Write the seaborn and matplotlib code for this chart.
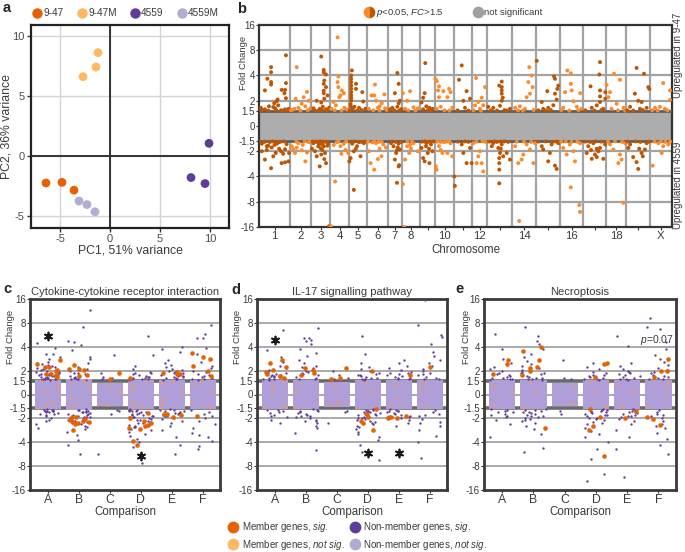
import numpy as np
import pandas as pd
import matplotlib.pyplot as plt
from matplotlib.lines import Line2D
import seaborn as sns

# ---------------- a: PCA ----------------
pca_sample = ['9-47'] * 3 + ['9-47M'] * 3 + ['4559'] * 3 + ['4559M'] * 3
pca_pc1 = [-6.4, -4.8, -3.6, -2.7, -1.4, -1.2, 9.9, 8.1, 9.5, -3.1, -2.3, -1.5]
pca_pc2 = [-2.25, -2.2, -2.85, 6.6, 7.4, 8.6, 1.05, -1.8, -2.3, -3.75, -4.05, -4.65]

# ---------------- b: genome-wide fold changes ----------------
chrom_names = ['1', '2', '3', '4', '5', '6', '7', '8', '9', '10',
               '11', '12', '13', '14', '15', '16', '17', '18', '19', 'X']
chrom_shown = ['1', '2', '3', '4', '5', '6', '7', '8', '10', '12', '14', '16', '18', 'X']
chrom_width = [31, 21, 19, 19, 18, 21, 14, 18, 15, 19, 18, 15, 25, 24, 24, 23, 23, 20, 24, 22]
fc_cut = 1.5

# significant genes per chromosome: (relative position, log2 fold change)
chr1 = [(0.87, 2.8), (0.39, 2.33), (0.39, 2.13), (0.27, 1.87), (0.39, 1.74), (0.39, 1.64), (0.87, 1.7),
        (0.19, 1.41), (0.73, 1.43), (0.84, 1.43), (0.82, 1.3), (0.87, 1.1), (0.6, 1.05), (0.57, 0.98),
        (0.49, 0.9), (0.32, 0.78), (0.46, 0.75), (0.06, 0.72), (0.71, 0.62), (0.84, 0.66), (0.19, 0.66),
        (0.62, 0.82), (0.52, 0.7), (0.95, 0.68), (0.1, 0.63), (0.3, 0.61), (0.55, 0.64), (0.78, 0.61),
        (0.92, 0.63),
        (0.19, -1.33), (0.39, -1.67), (0.84, -1.44), (0.73, -1.47), (0.95, -1.4), (0.54, -1.07), (0.46, -1.2),
        (0.65, -0.9), (0.78, -1.1), (0.3, -0.78), (0.19, -0.62), (0.09, -0.7), (0.89, -0.72), (0.57, -0.7),
        (0.41, -0.85), (0.71, -1.0), (0.97, -1.07), (0.84, -0.92), (0.09, -1.0), (0.25, -0.95), (0.62, -0.66),
        (0.35, -0.64), (0.15, -0.63), (0.45, -0.61), (0.68, -0.63), (0.8, -0.61), (0.5, -0.75), (0.25, -0.8)]
chr2 = [(0.32, 2.33), (0.27, 1.08), (0.81, 1.35), (0.65, 1.14), (0.89, 1.0), (0.56, 0.88), (0.73, 0.78),
        (0.21, 0.68), (0.4, 0.72), (0.97, 0.7), (0.1, 0.64), (0.05, 0.62), (0.5, 0.61), (0.85, 0.63),
        (0.73, -1.4), (0.24, -1.07), (0.56, -0.96), (0.08, -0.8), (0.4, -0.68), (0.89, -0.64), (0.81, -1.05),
        (0.32, -0.86), (0.6, -0.75), (0.15, -0.92), (0.3, -0.62), (0.7, -0.61), (0.95, -0.63)]
chr3 = [(0.54, 2.75), (0.67, 2.22), (0.67, 2.13), (0.79, 2.04), (0.7, 1.8), (0.67, 1.67), (0.79, 1.54),
        (0.87, 1.21), (0.7, 1.08), (0.3, 1.0), (0.54, 0.93), (0.62, 0.76), (0.79, 0.66), (0.13, 0.7),
        (0.46, 0.68), (0.95, 0.72), (0.67, 1.4), (0.67, 1.3), (0.2, 0.62), (0.4, 0.61), (0.58, 0.63),
        (0.85, 0.62),
        (0.46, -1.6), (0.79, -1.47), (0.7, -1.31), (0.54, -1.13), (0.21, -1.0), (0.38, -0.8), (0.13, -0.68),
        (0.62, -0.64), (0.87, -0.78), (0.3, -1.2), (0.74, -1.07), (0.05, -0.9), (0.51, -0.88), (0.6, -0.95),
        (0.42, -0.72), (0.9, -0.7), (0.25, -0.62), (0.95, -3.97), (0.1, -0.62), (0.33, -0.63), (0.48, -0.61),
        (0.66, -0.62), (0.8, -0.63), (0.58, -0.72), (0.68, -0.8)]
chr4 = [(0.4, 3.51), (0.44, 1.96), (0.4, 1.74), (0.44, 1.54), (0.62, 1.41), (0.55, 1.21), (0.73, 1.3),
        (0.49, 1.14), (0.18, 0.95), (0.31, 0.82), (0.76, 0.72), (0.07, 0.68), (0.9, 0.65), (0.25, 0.62),
        (0.6, 0.61),
        (0.27, -2.2), (0.05, -3.97), (0.36, -0.64), (0.73, -0.7), (0.82, -0.95), (0.55, -0.8), (0.96, -1.07),
        (0.2, -0.75), (0.6, -1.1), (0.45, -0.62), (0.85, -0.61)]
chr5 = [(0.16, 2.2), (0.12, 2.0), (0.12, 1.87), (0.12, 1.74), (0.12, 1.6), (0.12, 1.47), (0.12, 1.34),
        (0.12, 1.21), (0.12, 1.0), (0.09, 0.86), (0.39, 1.67), (0.39, 1.47), (0.74, 1.34), (0.79, 0.97),
        (0.3, 0.76), (0.56, 0.72), (0.91, 0.68), (0.21, 0.66), (0.12, 1.1), (0.12, 0.75), (0.05, 0.62),
        (0.45, 0.61), (0.7, 0.63),
        (0.27, -2.53), (0.02, -1.4), (0.09, -1.27), (0.27, -1.0), (0.45, -0.8), (0.64, -1.2), (0.82, -0.68),
        (0.18, -0.7), (0.55, -0.64), (0.38, -0.9), (0.1, -0.62), (0.3, -0.61), (0.7, -0.63), (0.9, -0.62)]
chr6 = [(0.38, 1.64), (0.34, 1.21), (0.21, 1.21), (0.43, 1.0), (0.83, 1.25), (0.6, 0.78), (0.09, 0.68),
        (0.52, 0.72), (0.86, 0.7), (0.7, 0.9), (0.3, 0.62), (0.6, 0.61), (0.95, 0.63),
        (0.17, -1.47), (0.34, -1.73), (0.69, -1.2), (0.52, -1.31), (0.09, -1.0), (0.43, -0.68), (0.78, -0.73),
        (0.26, -0.65), (0.6, -0.9), (0.9, -0.85), (0.05, -0.62), (0.35, -0.61), (0.55, -0.63), (0.7, -0.62)]
chr7 = [(0.67, 2.1), (0.76, 1.67), (0.49, 1.3), (0.85, 1.0), (0.76, 0.9), (0.31, 0.72), (0.67, 0.76),
        (0.95, 0.67), (0.13, 0.66), (0.45, 0.62), (0.8, 0.61),
        (0.64, -2.25), (0.49, -1.33), (0.76, -1.6), (0.8, -1.55), (0.58, -1.07), (0.85, -0.93), (0.4, -0.8),
        (0.22, -0.68), (0.95, -0.64), (0.7, -0.85), (0.3, -0.62), (0.55, -0.63), (0.75, -0.7), (0.65, -0.95)]
chr8 = [(0.45, 1.38), (0.29, 1.0), (0.64, 0.74), (0.17, 0.68), (0.88, 0.7), (0.05, 1.3), (0.35, 0.62),
        (0.75, 0.61),
        (0.05, -2.3), (0.12, -4.0), (0.4, -1.07), (0.29, -0.8), (0.64, -0.68), (0.17, -1.33), (0.88, -1.0),
        (0.5, -0.9), (0.3, -0.62), (0.55, -0.61), (0.45, -0.75)]
chr9 = [(0.35, 2.49), (0.31, 1.3), (0.21, 1.12), (0.1, 0.93), (0.42, 0.78), (0.63, 0.72), (0.83, 0.68),
        (0.21, 0.66), (0.5, 0.62), (0.7, 0.61),
        (0.21, -1.27), (0.31, -1.4), (0.63, -1.47), (0.52, -1.07), (0.1, -0.87), (0.42, -0.68), (0.73, -0.73),
        (0.83, -1.0), (0.6, -0.9), (0.15, -0.62), (0.35, -0.61), (0.5, -0.63), (0.7, -0.62), (0.9, -0.61),
        (0.4, -0.8)]
chr10 = [(0.02, 1.87), (0.09, 1.78), (0.21, 1.57), (0.16, 1.41), (0.44, 1.38), (0.21, 1.14), (0.74, 1.47),
         (0.82, 1.34), (0.65, 1.14), (0.3, 0.76), (0.91, 0.72), (0.09, 0.68), (0.5, 0.62), (0.75, 0.61),
         (0.04, -1.6), (0.09, -1.73), (0.39, -1.07), (0.65, -1.07), (0.21, -0.8), (0.82, -0.68), (0.47, -0.64),
         (0.91, -1.2), (0.3, -0.95), (0.12, -0.62), (0.3, -0.63), (0.6, -0.62), (0.75, -0.61)]
chr11 = [(0.28, 1.83), (0.43, 2.4), (0.7, 1.38), (0.89, 1.08), (0.52, 1.0), (0.61, 0.72), (0.2, 0.62),
         (0.8, 0.61),
         (0.02, -2.0), (0.05, -2.37), (0.7, -1.47), (0.98, -1.47), (0.52, -1.07), (0.89, -0.87), (0.43, -0.73),
         (0.2, -0.62), (0.6, -0.61), (0.8, -0.63)]
chr12 = [(0.27, 1.9), (0.87, 1.54), (0.65, 1.12), (0.42, 0.95), (0.53, 0.68), (0.75, 0.82), (0.2, 0.82),
         (0.1, 0.62), (0.6, 0.61),
         (0.31, -1.47), (0.65, -1.47), (0.75, -1.8), (0.42, -1.2), (0.09, -0.68), (0.53, -1.0), (0.3, -0.62),
         (0.7, -0.61), (0.9, -0.63)]
chr13 = [(0.49, 1.6), (0.59, 1.76), (0.59, 1.41), (0.59, 1.28), (0.63, 1.12), (0.59, 1.0), (0.52, 0.8),
         (0.92, 0.68), (0.25, 0.72), (0.05, 0.76), (0.59, 1.54), (0.15, 0.62), (0.4, 0.61), (0.7, 0.63),
         (0.8, 0.61),
         (0.49, -2.27), (0.49, -1.73), (0.49, -1.47), (0.52, -1.07), (0.45, -0.87), (0.59, -0.73), (0.19, -0.8),
         (0.79, -1.07), (0.92, -1.33), (0.25, -0.68), (0.65, -1.2), (0.49, -1.27), (0.1, -0.62), (0.3, -0.61),
         (0.4, -0.63), (0.55, -0.62), (0.7, -0.61), (0.85, -0.63), (0.55, -0.9)]
chr14 = [(0.72, 2.33), (0.68, 1.74), (0.82, 2.0), (0.86, 1.54), (0.75, 1.28), (0.61, 1.14), (0.33, 0.78),
         (0.54, 0.68), (0.13, 0.72), (0.25, 0.62), (0.45, 0.61), (0.9, 0.63),
         (0.3, -3.76), (0.26, -1.47), (0.4, -1.33), (0.47, -1.13), (0.75, -0.93), (0.89, -1.47), (0.13, -0.8),
         (0.61, -0.73), (0.96, -0.68), (0.2, -0.62), (0.5, -0.61), (0.8, -0.63)]
chr15 = [(0.03, 2.58), (0.75, 1.96), (0.79, 1.87), (0.47, 1.38), (0.93, 1.6), (0.89, 1.47), (0.79, 1.28),
         (0.86, 1.05), (0.72, 0.82), (0.51, 0.72), (0.3, 0.68), (0.24, 0.95), (0.1, 0.62), (0.4, 0.61),
         (0.62, 0.63),
         (0.86, -1.7), (0.79, -1.57), (0.51, -1.4), (0.58, -1.07), (0.3, -0.93), (0.24, -0.8), (0.93, -0.68),
         (0.65, -0.73), (0.1, -0.62), (0.4, -0.61), (0.7, -0.63), (0.85, -0.62)]
chr16 = [(0.32, 2.2), (0.47, 2.09), (0.47, 1.67), (0.51, 1.41), (0.22, 1.34), (0.88, 1.3), (0.58, 0.98),
         (0.14, 0.72), (0.73, 0.76), (0.94, 0.68), (0.05, 0.62), (0.4, 0.61), (0.8, 0.63),
         (0.47, -2.43), (0.84, -3.13), (0.87, -3.4), (0.65, -1.4), (0.29, -1.13), (0.14, -0.87), (0.43, -0.73),
         (0.87, -0.68), (0.58, -1.0), (0.05, -0.62), (0.25, -0.61), (0.5, -0.63), (0.75, -0.62)]
chr17 = [(0.74, 2.53), (0.71, 2.04), (0.33, 1.57), (0.74, 1.41), (0.97, 1.34), (0.97, 1.08), (0.74, 0.95),
         (0.6, 0.82), (0.38, 0.72), (0.88, 0.68), (0.74, 1.17), (0.1, 0.62), (0.5, 0.61), (0.8, 0.63),
         (0.38, -1.3), (0.6, -1.23), (0.88, -1.3), (0.74, -0.87), (0.23, -0.8), (0.45, -0.68), (0.16, -1.07),
         (0.96, -0.73), (0.67, -1.0), (0.52, -1.13), (0.1, -0.62), (0.3, -0.63), (0.55, -0.61), (0.8, -0.62),
         (0.35, -0.95), (0.6, -0.9)]
chr18 = [(0.4, 2.07), (0.7, 1.83), (0.03, 1.63), (0.2, 1.34), (0.12, 1.14), (0.53, 0.88), (0.87, 0.72),
         (0.28, 0.68), (0.6, 0.62), (0.95, 0.61),
         (0.87, -3.04), (0.62, -1.47), (0.78, -1.33), (0.7, -1.13), (0.37, -0.93), (0.2, -0.73), (0.95, -0.68),
         (0.1, -0.62), (0.45, -0.61), (0.8, -0.63)]
chr19 = [(0.44, 2.3), (0.75, 2.07), (0.93, 1.54), (0.97, 1.47), (0.37, 1.28), (0.51, 1.0), (0.65, 0.95),
         (0.17, 0.76), (0.86, 0.72), (0.58, 0.68), (0.05, 0.62), (0.3, 0.61), (0.7, 0.63),
         (0.51, -1.7), (0.44, -1.43), (0.3, -1.23), (0.65, -1.07), (0.1, -0.87), (0.17, -0.73), (0.86, -0.68),
         (0.79, -0.93), (0.05, -0.62), (0.4, -0.61), (0.6, -0.63), (0.95, -0.62), (0.55, -0.9), (0.7, -1.2)]
chrX = [(0.6, 1.7), (0.91, 1.41), (0.91, 1.03), (0.45, 0.76), (0.68, 0.68), (0.23, 0.72), (0.1, 0.62),
        (0.35, 0.61), (0.8, 0.62),
        (0.12, -1.57), (0.53, -1.07), (0.6, -0.8), (0.38, -0.68), (0.83, -0.73), (0.91, -0.62), (0.2, -0.62),
        (0.5, -0.61), (0.7, -0.63)]
sig_genes = [chr1, chr2, chr3, chr4, chr5, chr6, chr7, chr8, chr9, chr10,
             chr11, chr12, chr13, chr14, chr15, chr16, chr17, chr18, chr19, chrX]

# ---------------- c-e: pathway panels (log2 fold change) ----------------
groups = ['A', 'B', 'C', 'D', 'E', 'F']

cyto_nonmember_sig = {
    'A': [2.14, 1.93, 1.71, 1.69, 1.59, 1.47, 1.38, 1.31, 1.27, 1.22, 1.2, 1.16, 1.12, 1.1, 1.06, 1.03, 1.01,
          0.98, 0.96, 0.94, 0.91, 0.9, 0.87, 0.85, 0.83, 0.81, 0.8, 0.78, 0.76, 0.74, 0.72, 0.71, 0.7, 0.68,
          0.67, 0.66, 0.64, 0.63, 0.62, 0.61,
          -0.62, -0.64, -0.66, -0.68, -0.7, -0.71, -0.74, -0.77, -0.8, -0.83, -0.87, -0.92, -0.98, -1.05,
          -1.13, -1.24, -1.39, -0.69, -0.73, -0.65],
    'B': [3.54, 2.83, 2.26, 2.21, 2.09, 1.87, 1.59, 1.47, 1.3, 1.15, 1.05, 0.98, 0.92, 0.88, 0.84, 0.8, 0.77,
          0.74, 0.71, 0.69, 0.67, 0.65, 0.63, 0.62,
          -0.62, -0.64, -0.66, -0.68, -0.7, -0.73, -0.75, -0.78, -0.8, -0.83, -0.86, -0.9, -0.93, -0.96, -1.0,
          -1.03, -1.07, -1.1, -1.14, -1.2, -1.25, -1.3, -1.38, -1.45, -1.55, -1.7, -1.9, -2.1, -2.5, -0.72,
          -0.85, -0.95, -1.05, -1.18],
    'C': [1.67, 0.9, 0.75, 0.7, 0.65, -0.65, -0.7, -2.5, -0.8],
    'D': [2.44, 1.64, 1.2, 1.05, 0.95, 0.9, 0.85, 0.8, 0.77, 0.74, 0.71, 0.69, 0.67, 0.65, 0.63, 0.62, 0.88,
          0.72,
          -0.62, -0.63, -0.65, -0.67, -0.69, -0.71, -0.73, -0.75, -0.77, -0.8, -0.82, -0.85, -0.88, -0.9,
          -0.93, -0.96, -1.0, -1.03, -1.06, -1.1, -1.14, -1.18, -1.22, -1.27, -1.32, -1.38, -1.45, -1.5,
          -1.57, -1.65, -1.75, -1.85, -2.0, -2.2, -2.45, -2.86, -0.7, -0.78, -0.86, -0.95, -1.08, -1.2, -1.35],
    'E': [1.97, 1.79, 1.9, 1.45, 1.3, 1.22, 1.15, 1.08, 1.02, 0.97, 0.93, 0.89, 0.85, 0.82, 0.79, 0.76, 0.73,
          0.7, 0.68, 0.66, 0.64, 0.62, 0.75, 0.9,
          -0.62, -0.64, -0.67, -0.7, -0.73, -0.76, -0.8, -0.84, -0.88, -0.92, -0.97, -1.03, -1.1, -1.2,
          -1.32, -1.5, -1.8, -2.1, -2.5, -0.69, -0.78, -0.86],
    'F': [2.9, 2.54, 2.36, 2.36, 1.95, 1.7, 1.5, 1.35, 1.2, 1.1, 1.0, 0.93, 0.87, 0.82, 0.78, 0.74, 0.7,
          0.67, 0.64, 0.62,
          -0.65, -0.72, -0.8, -0.9, -1.0, -1.13, -1.25, -1.4, -1.6, -1.8, -2.14, -1.7, -1.95, -2.3],
}
cyto_member_sig = {
    'A': [1.43, 1.29, 1.16, 1.16, 1.04, 0.97, 0.86, 0.86, 0.8, 0.74, 0.97],
    'B': [1.01, 1.07, 1.24, 1.07, 0.76, 0.8, -1.49, -1.13, -0.93, -1.03, -1.1, -1.21, -1.05, -0.95, -1.15, -1.25],
    'C': [0.9, 0.66],
    'D': [0.69, -0.79, -1.0, -1.27, -1.39, -1.33, -1.93, -2.1, -1.2, -1.45, -1.1],
    'E': [0.86, 0.9, 0.86, -0.86, -0.81, -0.93, -0.81, 0.95],
    'F': [1.73, 1.59, 1.47, 0.97, 1.21, 0.79, -0.89],
}
cyto_member_ns = {
    'A': [0.45, -0.3, 0.1, -0.55, 0.55, 0.25, -0.5],
    'B': [0.5, -0.45, 0.2, -0.58, 0.58, -0.1, 0.35],
    'C': [0.3, -0.35, 0.1, -0.45],
    'D': [0.55, -0.5, 0.15, -0.58, -0.3, 0.4],
    'E': [0.5, -0.55, 0.2, -0.4, 0.58, -0.2],
    'F': [0.45, -0.5, 0.05, 0.57, -0.3],
}
cyto_box = [0.62, 0.63, 0.49, 0.62, 0.62, 0.6]
cyto_stars = [('A', 2.44), ('D', -2.57)]

il17_nonmember_sig = {
    'A': [2.69, 2.3, 1.85, 1.55, 1.35, 1.2, 1.1, 1.02, 0.95, 0.9, 0.85, 0.8, 0.76, 0.72, 0.69, 0.66, 0.64,
          0.62, 0.78, 0.88,
          -0.63, -0.67, -0.72, -0.78, -0.85, -0.95, -1.05, -1.2, -0.7, -0.9],
    'B': [2.8, 2.36, 2.26, 2.3, 2.36, 2.1, 1.9, 1.75, 1.6, 1.45, 1.3, 1.2, 1.1, 1.0, 0.92, 0.86, 0.8, 0.75,
          0.7, 0.66, 0.63, 1.15, 0.95,
          -0.62, -0.65, -0.68, -0.72, -0.76, -0.8, -0.85, -0.9, -0.95, -1.0, -1.06, -1.13, -1.2, -1.3, -1.42,
          -1.6, -2.31, -0.7, -0.88, -1.1],
    'C': [0.7, 0.8, 1.0, 0.65, -0.7, -0.75, -1.2],
    'D': [2.47, 1.69, 1.3, 1.15, 1.05, 0.97, 0.9, 0.85, 0.8, 0.76, 0.72, 0.69, 0.66, 0.64, 0.62, 0.82, 0.7,
          -0.62, -0.64, -0.66, -0.68, -0.7, -0.72, -0.75, -0.78, -0.81, -0.84, -0.87, -0.9, -0.94, -0.98,
          -1.02, -1.06, -1.1, -1.15, -1.2, -1.25, -1.3, -1.37, -1.45, -1.55, -1.65, -1.78, -1.9, -2.1, -2.4,
          -2.74, -0.73, -0.83, -0.92, -1.0, -1.12],
    'E': [1.43, 1.3, 1.2, 1.1, 1.02, 0.95, 0.89, 0.84, 0.79, 0.75, 0.71, 0.68, 0.65, 0.63, 0.8, 0.92,
          -0.62, -0.65, -0.68, -0.71, -0.75, -0.79, -0.83, -0.88, -0.94, -1.0, -1.08, -1.18, -1.3, -0.7, -0.85],
    'F': [3.97, 2.9, 2.4, 2.5, 2.1, 1.8, 1.6, 1.45, 1.3, 1.18, 1.08, 1.0, 0.92, 0.86, 0.8, 0.75, 0.7, 0.66,
          0.63,
          -0.65, -0.72, -0.8, -0.9, -1.02, -1.15, -1.3, -1.5, -1.75, -2.0, -2.67, -1.2, -0.85],
}
il17_member_sig = {
    'A': [1.44, 1.3, 1.14, 1.01, 0.86, 0.76, 0.76, 0.69, 0.95],
    'B': [1.01, 0.9, 0.83, 1.1],
    'C': [0.69, 0.66, 1.11],
    'D': [0.97, -0.6, -0.81, -0.96, -1.1, -1.21, -1.49],
    'E': [0.83, -0.93, -0.99, -0.93, -0.99, -0.89],
    'F': [1.16],
}
il17_member_ns = {
    'A': [0.4, -0.5, 0.15, -0.58],
    'B': [0.5, -0.5, 0.2],
    'C': [0.3, -0.3, -0.45],
    'D': [0.5, -0.55, 0.1],
    'E': [0.45, -0.5, -0.2],
    'F': [0.5, -0.45, 0.2],
}
il17_box = [0.62, 0.62, 0.52, 0.62, 0.62, 0.62]
il17_stars = [('A', 2.3), ('D', -2.43), ('E', -2.43)]

necro_nonmember_sig = {
    'A': [2.54, 1.9, 1.47, 1.3, 1.15, 1.05, 0.97, 0.9, 0.85, 0.8, 0.75, 0.71, 0.68, 0.65, 0.63, 0.62, 0.78,
          -0.62, -0.66, -0.7, -0.75, -0.8, -0.87, -0.95, -1.05, -1.24, -1.79, -0.72, -0.9],
    'B': [2.83, 2.26, 2.47, 2.1, 1.9, 1.7, 1.55, 1.4, 1.28, 1.18, 1.1, 1.02, 0.95, 0.89, 0.84, 0.79, 0.75,
          0.71, 0.68, 0.65, 0.63, 0.62, 0.92,
          -0.62, -0.64, -0.67, -0.7, -0.73, -0.77, -0.81, -0.85, -0.9, -0.95, -1.0, -1.06, -1.13, -1.2, -1.3,
          -1.45, -1.65, -2.24, -2.39, -0.75, -0.88, -1.02],
    'C': [1.43, 0.7, 0.65, -0.7, -0.8],
    'D': [1.3, 1.15, 1.05, 0.95, 0.88, 0.82, 0.77, 0.73, 0.69, 0.66, 0.63, 0.62, 0.8,
          -0.62, -0.64, -0.66, -0.69, -0.72, -0.75, -0.79, -0.83, -0.87, -0.92, -0.97, -1.02, -1.08, -1.15,
          -1.22, -1.3, -1.4, -1.52, -1.65, -1.8, -2.0, -2.3, -2.7, -3.31, -3.64, -0.7, -0.85, -1.0, -1.18],
    'E': [2.47, 2.03, 1.3, 1.18, 1.08, 1.0, 0.93, 0.87, 0.82, 0.77, 0.73, 0.7, 0.67, 0.64, 0.62, 0.9,
          -0.62, -0.65, -0.68, -0.72, -0.76, -0.8, -0.85, -0.9, -0.96, -1.03, -1.12, -1.22, -1.5, -1.8, -2.3,
          -3.46, -0.74, -0.88],
    'F': [3.19, 2.83, 2.76, 2.2, 1.9, 1.65, 1.47, 1.35, 1.22, 1.12, 1.03, 0.95, 0.88, 0.82, 0.77, 0.72,
          0.68, 0.65, 0.63,
          -0.65, -0.72, -0.8, -0.9, -1.0, -1.12, -1.25, -1.4, -1.6, -1.85, -2.1, -2.5, -1.3, -0.85],
}
necro_member_sig = {
    'A': [1.43, 1.26, 0.86],
    'B': [1.83, 1.43, 1.16, 0.97, 1.11, 0.8, -1.39, 2.0],
    'C': [],
    'D': [1.33, 1.26, 0.73, -2.57, -1.5, -0.96, -0.6, -1.3],
    'E': [-0.7, -0.99],
    'F': [1.47, 0.97, 0.73, -1.03, -0.96, -1.29, 1.0],
}
necro_member_ns = {
    'A': [0.4, -0.5, 0.2],
    'B': [0.5, -0.55, 0.1],
    'C': [0.3, -0.35],
    'D': [0.5, -0.5, 0.15, 0.58],
    'E': [0.45, -0.5, 0.2],
    'F': [0.5, -0.45, 0.25],
}
necro_box = [0.62, 0.62, 0.5, 0.62, 0.62, 0.62]
necro_stars = []

# ---------------- style ----------------
sns.set_theme(style='white')
plt.rcParams['font.family'] = ['Liberation Sans', 'DejaVu Sans']
plt.rcParams['mathtext.fontset'] = 'custom'
plt.rcParams['mathtext.rm'] = 'Liberation Sans'
plt.rcParams['mathtext.it'] = 'Liberation Sans:italic'
plt.rcParams['axes.unicode_minus'] = False
np.random.seed(7)  # fixed jitter for the strip plots

ORANGE, LORANGE = '#e66101', '#fdb863'
PURPLE, LPURPLE = '#5e3c99', '#b2abd2'
BOX = '#b09ed8'
SPECK = '#f39a4c'
B_DARK, B_LIGHT, B_GREY = '#bf5500', '#fd8a28', '#adadad'
TXT = '#3a3a3a'
cut = np.log2(fc_cut)

fc_labels = ['16', '8', '4', '2', '1.5', '0', '-1.5', '-2', '-4', '-8', '-16']
fc_pos = [4, 3, 2, 1, cut, 0, -cut, -1, -2, -3, -4]

fig = plt.figure(figsize=(6.85, 5.52), dpi=100)


def px_axes(left, top, right, bottom):
    return fig.add_axes([left / 685, 1 - bottom / 552, (right - left) / 685, (bottom - top) / 552])


def style_frame(ax, color='#333333', lw=1.6):
    for s in ax.spines.values():
        s.set_visible(True)
        s.set_color(color)
        s.set_linewidth(lw)


# ---------------- panel a ----------------
ax = px_axes(31, 25, 229, 228)
pca = pd.DataFrame({'PC1': pca_pc1, 'PC2': pca_pc2, 'sample': pca_sample})
pal_a = {'9-47': ORANGE, '9-47M': LORANGE, '4559': PURPLE, '4559M': LPURPLE}
ax.set_axisbelow(True)
ax.set_xticks([-5, 0, 5, 10])
ax.set_yticks([-5, 0, 5, 10])
ax.grid(True, color='#d4d4d4', lw=1.0)
ax.axvline(0, color='#333333', lw=1.4, zorder=2)
ax.axhline(0, color='#333333', lw=1.4, zorder=2)
sns.scatterplot(data=pca, x='PC1', y='PC2', hue='sample', palette=pal_a, s=40,
                linewidth=0, legend=False, ax=ax, zorder=3)
ax.set_xlim(-7.9, 11.9)
ax.set_ylim(-6.0, 10.9)
ax.set_xlabel('PC1, 51% variance', fontsize=8.8, color=TXT)
ax.set_ylabel('PC2, 36% variance', fontsize=8.8, color=TXT)
ax.xaxis.set_label_coords(0.5, -0.08)
ax.yaxis.set_label_coords(-0.092, 0.5)
ax.tick_params(bottom=True, left=True, length=3, width=1, color='#333333',
               labelsize=8, labelcolor='#4d4d4d', pad=1.5)
style_frame(ax, '#222222', 1.6)
h_a = [Line2D([], [], marker='o', ls='', markersize=7.5, markerfacecolor=pal_a[k],
              markeredgewidth=0) for k in pal_a]
ax.legend(h_a, list(pal_a), ncol=4, loc='lower center', bbox_to_anchor=(0.475, 1.0),
          frameon=False, fontsize=7.2, handletextpad=0.05, columnspacing=1.2,
          handlelength=1.2, borderaxespad=0.25, labelcolor=TXT)

# ---------------- panel b ----------------
starts = np.concatenate([[0], np.cumsum(chrom_width)[:-1]])
total = float(sum(chrom_width))
rows = []
for i, pts in enumerate(sig_genes):
    for frac, lfc in pts:
        rows.append((starts[i] + frac * chrom_width[i], lfc, 'odd' if i % 2 == 0 else 'even'))
dfb = pd.DataFrame(rows, columns=['pos', 'log2fc', 'parity'])

ax = px_axes(259, 25, 672, 227)
for b in np.cumsum(chrom_width)[:-1]:
    ax.axvline(b, color='#a3a3a3', lw=1.6, zorder=1)
for y in [3, 2, 1, -1, -2, -3]:
    ax.axhline(y, color='#a3a3a3', lw=1.6, zorder=1)
ax.fill_between([0, total], -cut, cut, color=B_GREY, lw=0, zorder=2)
for y in [cut, -cut]:
    ax.axhline(y, color='#5f5f5f', lw=2.0, zorder=3)
sns.scatterplot(data=dfb, x='pos', y='log2fc', hue='parity',
                palette={'odd': B_DARK, 'even': B_LIGHT}, s=8, linewidth=0,
                legend=False, ax=ax, zorder=4)
ax.set_xlim(0, total)
ax.set_ylim(-4, 4)
centers = starts + np.array(chrom_width) / 2
ax.set_xticks(centers)
ax.set_xticklabels([c if c in chrom_shown else '' for c in chrom_names], fontsize=8.2, color=TXT)
ax.set_yticks(fc_pos)
ax.set_yticklabels(fc_labels, fontsize=7, color=TXT)
ax.tick_params(bottom=True, left=True, length=2, width=0.8, color='#333333', pad=1)
ax.set_xlabel('Chromosome', fontsize=8.3, color=TXT, labelpad=2)
ax.set_ylabel('Fold Change', fontsize=6.8, color=TXT)
ax.yaxis.set_label_coords(-0.027, 0.81)
style_frame(ax, '#333333', 1.6)
h_b = [Line2D([], [], marker='o', ls='', markersize=8.4, markerfacecolor=B_LIGHT,
              markerfacecoloralt=B_DARK, fillstyle='left', markeredgewidth=0),
       Line2D([], [], marker='o', ls='', markersize=8.4, markerfacecolor='#a0a0a0',
              markeredgewidth=0)]
ax.legend(h_b, [r'$\it{p}$<0.05, $\it{FC}$>1.5', 'not significant'], ncol=2,
          loc='lower center', bbox_to_anchor=(0.47, 1.0), frameon=False, fontsize=6.8,
          handletextpad=0.1, columnspacing=3.0, handlelength=1.2, borderaxespad=0.2,
          labelcolor=TXT)
fig.text(678 / 685, 1 - 55 / 552, 'Upregulated in 9-47', rotation=90, ha='center',
         va='center', fontsize=7, color=TXT)
fig.text(678 / 685, 1 - 185 / 552, 'Upregulated in 4559', rotation=90, ha='center',
         va='center', fontsize=7, color=TXT)


# ---------------- panels c-e ----------------
def long_frame(d):
    return pd.DataFrame([(g, v) for g in groups for v in d[g]], columns=['comparison', 'log2fc'])


def pathway_panel(ax, title, nm_sig, m_sig, m_ns, box_half, stars, ylab_x):
    for y in [3, 2, 1, 0, -1, -2, -3]:
        ax.axhline(y, color='#9c9c9c', lw=1.2, zorder=1)
    for y in [cut, -cut]:
        ax.axhline(y, color='#6a6a6a', lw=2.6, zorder=1)
    sns.stripplot(data=long_frame(nm_sig), x='comparison', y='log2fc', order=groups,
                  jitter=0.4, size=1.7, color=PURPLE, linewidth=0, ax=ax, zorder=3)
    ax.bar(range(len(groups)), [2 * h for h in box_half], bottom=[-h for h in box_half],
           width=0.84, color=BOX, lw=0, zorder=2)
    sns.stripplot(data=long_frame(m_ns), x='comparison', y='log2fc', order=groups,
                  jitter=0.38, size=1.8, color=SPECK, linewidth=0, ax=ax, zorder=3)
    sns.stripplot(data=long_frame(m_sig), x='comparison', y='log2fc', order=groups,
                  jitter=0.38, size=3.3, color=ORANGE, linewidth=0, ax=ax, zorder=4)
    for g, y in stars:
        ax.scatter([groups.index(g)], [y], marker=(6, 2, 0), s=32, color='k',
                   linewidths=1.3, zorder=6)
    ax.set_xlim(-0.58, 5.56)
    ax.set_ylim(-4, 4)
    ax.set_yticks(fc_pos)
    ax.set_yticklabels(fc_labels, fontsize=7, color=TXT)
    ax.set_xticks(range(len(groups)))
    ax.set_xticklabels(groups, fontsize=8.8, color=TXT)
    ax.tick_params(bottom=True, left=True, length=2, width=0.8, color='#333333', pad=1)
    ax.set_xlabel('Comparison', fontsize=8.3, color=TXT, labelpad=0)
    ax.set_ylabel('Fold Change', fontsize=6.8, color=TXT)
    ax.yaxis.set_label_coords(ylab_x, 0.80)
    ax.set_title(title, fontsize=8.0, color=TXT, pad=3)
    style_frame(ax, '#3a3a3a', 2.0)


ax_c = px_axes(30, 299, 220, 490)
pathway_panel(ax_c, 'Cytokine-cytokine receptor interaction', cyto_nonmember_sig,
              cyto_member_sig, cyto_member_ns, cyto_box, cyto_stars, -0.079)
ax_d = px_axes(257, 299, 447, 490)
pathway_panel(ax_d, 'IL-17 signalling pathway', il17_nonmember_sig,
              il17_member_sig, il17_member_ns, il17_box, il17_stars, -0.079)
ax_e = px_axes(484, 299, 676, 490)
pathway_panel(ax_e, 'Necroptosis', necro_nonmember_sig,
              necro_member_sig, necro_member_ns, necro_box, necro_stars, -0.068)
ax_e.text(5.5, 2.28, r'$\it{p}$=0.07', ha='right', va='center', fontsize=7.5, color=TXT, zorder=7)

# shared legend
h_leg = [Line2D([], [], marker='o', ls='', markersize=8.5, markerfacecolor=c, markeredgewidth=0)
         for c in [ORANGE, LORANGE, PURPLE, LPURPLE]]
fig.legend(h_leg, [r'Member genes, $\it{sig.}$', r'Member genes, $\it{not\ sig.}$',
                   r'Non-member genes, $\it{sig.}$', r'Non-member genes, $\it{not\ sig.}$'],
           ncol=2, loc='center', bbox_to_anchor=(357 / 685, 1 - 536 / 552), frameon=False,
           fontsize=7, handletextpad=0.2, columnspacing=0.4, labelspacing=0.35,
           handlelength=1.3, labelcolor=TXT)

# panel letters
for letter, x, y in [('a', 3, 8), ('b', 237, 9), ('c', 3, 289), ('d', 231, 290), ('e', 455, 289)]:
    fig.text(x / 685, 1 - y / 552, letter, fontsize=10.5, fontweight='bold', va='center', ha='left')

fig.savefig('out.png', dpi=100)
